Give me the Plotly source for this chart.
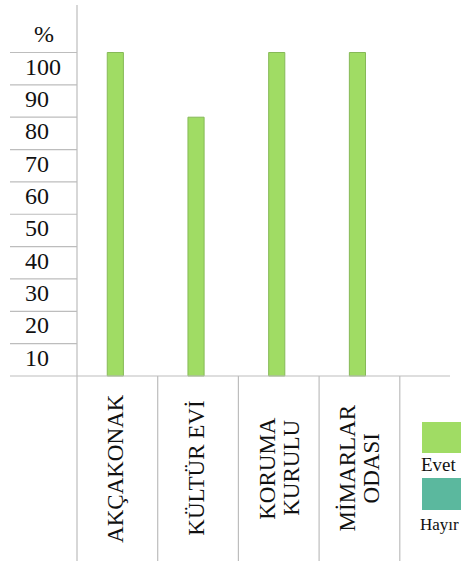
import plotly.graph_objects as go

# ---- data ----
categories = ["AKÇAKONAK", "KÜLTÜR EVİ", "KORUMA<br>KURULU", "MİMARLAR<br>ODASI"]
evet = [100, 80, 100, 100]
hayir = [0, 0, 0, 0]
series_names = ["Evet", "Hayır"]
y_tick_values = [10, 20, 30, 40, 50, 60, 70, 80, 90, 100]
y_unit_label = "%"

# ---- layout geometry (screen pixels) ----
W, H = 461, 561
px_per_cat = 80.7
px_per_unit = 3.235
axis_px_x = 77
base_px_y = 376

def xpx(s):
    return -0.5 + (s - axis_px_x) / px_per_cat

def ypx(s):
    return (base_px_y - s) / px_per_unit

x0, x1 = xpx(0), xpx(W)
y0, y1 = ypx(H), ypx(0)

GREEN = "#A0DC64"
GREEN_EDGE = "#86B957"
TEAL = "#5BB89E"
LINE = "#BDBDBD"
FONT = "Liberation Serif"

xs = list(range(len(categories)))

fig = go.Figure()
fig.add_trace(go.Bar(
    x=xs, y=evet, name=series_names[0], width=0.2, offset=-0.125,
    marker=dict(color=GREEN, line=dict(color=GREEN_EDGE, width=1)),
    showlegend=False,
))
fig.add_trace(go.Bar(
    x=[x + 0.2 for x in xs], y=hayir, name=series_names[1], width=0.2, offset=-0.125,
    marker=dict(color=TEAL, line=dict(width=0)),
    showlegend=False,
))

# y tick labels in the left table column
fig.add_trace(go.Scatter(
    x=[xpx(25)] * len(y_tick_values), y=[v - 5 for v in y_tick_values],
    text=[str(v) for v in y_tick_values], mode="text",
    textposition="middle right", textfont=dict(family=FONT, size=24, color="#111"),
    showlegend=False, hoverinfo="skip",
))
fig.add_trace(go.Scatter(
    x=[xpx(44)], y=[y_tick_values[-1] + 5], text=[y_unit_label], mode="text",
    textposition="middle center", textfont=dict(family=FONT, size=24, color="#111"),
    showlegend=False, hoverinfo="skip",
))

shapes = []
for v in y_tick_values:
    shapes.append(dict(type="line", x0=xpx(10), x1=-0.5, y0=v, y1=v,
                       line=dict(color=LINE, width=1.2)))
shapes.append(dict(type="line", x0=xpx(10), x1=xpx(450), y0=0, y1=0,
                   line=dict(color=LINE, width=1.2)))
shapes.append(dict(type="line", x0=-0.5, x1=-0.5, y0=ypx(5), y1=y0,
                   line=dict(color=LINE, width=1.2)))
for i in range(len(categories) + 1):
    xi = i + 0.5
    shapes.append(dict(type="line", x0=xi, x1=xi, y0=0, y1=y0,
                       line=dict(color=LINE, width=1.2)))

# legend boxes (fifth column)
leg_x0 = xpx(422)
leg_x1 = xpx(470)
shapes.append(dict(type="rect", x0=leg_x0, x1=leg_x1, y0=ypx(453), y1=ypx(422),
                   fillcolor=GREEN, line=dict(width=0)))
shapes.append(dict(type="rect", x0=leg_x0, x1=leg_x1, y0=ypx(510), y1=ypx(478),
                   fillcolor=TEAL, line=dict(width=0)))

annotations = []
line_gap = 24 / px_per_cat
for i, c in enumerate(categories):
    parts = c.split("<br>")
    n = len(parts)
    for j, part in enumerate(parts):
        dx = (j - (n - 1) / 2) * line_gap
        annotations.append(dict(
            x=i - 0.03 + dx + (0.03 if n > 1 else 0), y=ypx(468), xref="x", yref="y",
            text=part, textangle=-90,
            showarrow=False, xanchor="center", yanchor="middle",
            font=dict(family=FONT, size=23, color="#111"),
        ))
annotations.append(dict(x=xpx(419), y=ypx(464), xref="x", yref="y", text=series_names[0],
                        showarrow=False, xanchor="left", yanchor="middle",
                        font=dict(family=FONT, size=19, color="#111")))
annotations.append(dict(x=xpx(418), y=ypx(524), xref="x", yref="y", text=series_names[1],
                        showarrow=False, xanchor="left", yanchor="middle",
                        font=dict(family=FONT, size=17, color="#111")))

fig.update_layout(
    width=W, height=H,
    margin=dict(l=0, r=0, t=0, b=0),
    paper_bgcolor="white", plot_bgcolor="white",
    barmode="overlay",
    shapes=shapes, annotations=annotations,
    xaxis=dict(range=[x0, x1], visible=False, fixedrange=True),
    yaxis=dict(range=[y0, y1], visible=False, fixedrange=True),
)
fig.write_html(
    "out.html",
    config={"displayModeBar": False, "staticPlot": True},
    post_script="document.body.style.margin='0';document.body.style.overflow='hidden';",
)
